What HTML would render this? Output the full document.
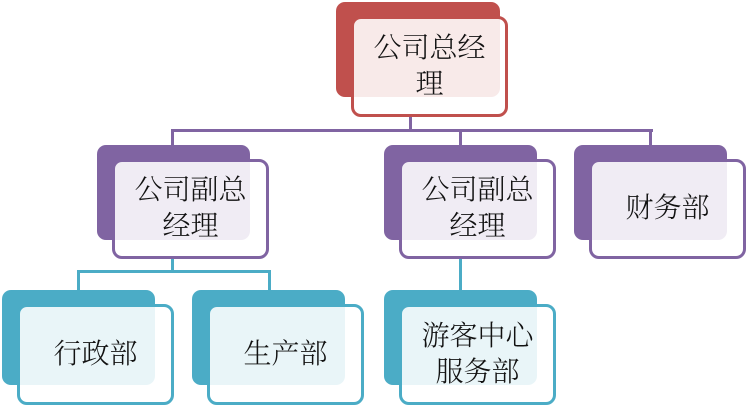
<!DOCTYPE html>
<html><head><meta charset="utf-8"><style>
body{margin:0;width:750px;height:407px;background:#fff;position:relative;overflow:hidden;font-family:"Liberation Serif","Noto Serif CJK SC",serif;}
.b{position:absolute;border-radius:9px;}
.f{position:absolute;border-radius:10px;background:rgba(255,255,255,0.88);border:3px solid;box-sizing:border-box;}
.t{position:absolute;display:flex;align-items:center;justify-content:center;text-align:center;font-size:28px;line-height:36px;color:#111;font-weight:300;}
.l{position:absolute;}
.r{background:#c0504d}.p{background:#8064a2}.c{background:#4bacc6}
</style></head><body>
<div class="l p" style="left:409px;top:114px;width:3px;height:18px"></div>
<div class="l p" style="left:171px;top:129px;width:482px;height:3px"></div>
<div class="l p" style="left:171px;top:129px;width:3px;height:18px"></div>
<div class="l p" style="left:459px;top:129px;width:3px;height:18px"></div>
<div class="l p" style="left:649px;top:129px;width:3px;height:18px"></div>
<div class="l c" style="left:171px;top:256px;width:3px;height:16px"></div>
<div class="l c" style="left:77px;top:270px;width:194px;height:3px"></div>
<div class="l c" style="left:77px;top:270px;width:3px;height:22px"></div>
<div class="l c" style="left:268px;top:270px;width:3px;height:22px"></div>
<div class="l c" style="left:459px;top:256px;width:3px;height:36px"></div>

<div class="b r" style="left:336px;top:2px;width:164px;height:95px"></div>
<div class="f" style="left:351px;top:16px;width:157px;height:101px;border-color:#c0504d"></div>
<div class="t" style="left:351px;top:16px;width:157px;height:101px">公司总经<br>理</div>

<div class="b p" style="left:97px;top:145px;width:153px;height:95px"></div>
<div class="f" style="left:112px;top:159px;width:157px;height:100px;border-color:#8064a2"></div>
<div class="t" style="left:112px;top:159px;width:157px;height:100px">公司副总<br>经理</div>

<div class="b p" style="left:384px;top:145px;width:153px;height:95px"></div>
<div class="f" style="left:399px;top:159px;width:157px;height:100px;border-color:#8064a2"></div>
<div class="t" style="left:399px;top:159px;width:157px;height:100px">公司副总<br>经理</div>

<div class="b p" style="left:574px;top:145px;width:153px;height:95px"></div>
<div class="f" style="left:589px;top:159px;width:157px;height:100px;border-color:#8064a2"></div>
<div class="t" style="left:589px;top:159px;width:157px;height:100px">财务部</div>

<div class="b c" style="left:2px;top:290px;width:153px;height:95px"></div>
<div class="f" style="left:17px;top:304px;width:157px;height:101px;border-color:#4bacc6"></div>
<div class="t" style="left:17px;top:304px;width:157px;height:101px">行政部</div>

<div class="b c" style="left:192px;top:290px;width:153px;height:95px"></div>
<div class="f" style="left:207px;top:304px;width:157px;height:101px;border-color:#4bacc6"></div>
<div class="t" style="left:207px;top:304px;width:157px;height:101px">生产部</div>

<div class="b c" style="left:384px;top:290px;width:153px;height:95px"></div>
<div class="f" style="left:399px;top:304px;width:157px;height:101px;border-color:#4bacc6"></div>
<div class="t" style="left:399px;top:304px;width:157px;height:101px">游客中心<br>服务部</div>
</body></html>
